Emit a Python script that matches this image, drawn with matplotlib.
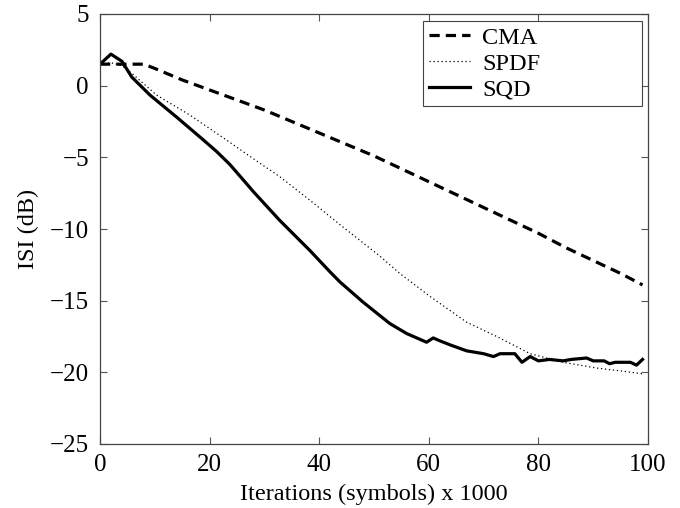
import matplotlib.pyplot as plt

plt.rcParams['font.family'] = ['Liberation Serif', 'DejaVu Serif']

# --- dati (iterazioni x1000, ISI in dB) ---
cma_x = [0, 5, 8, 10, 15, 20, 25, 30, 35, 40, 45, 50, 55, 60, 65, 70, 75, 80, 85, 90, 95, 99]
cma_y = [1.5, 1.5, 1.5, 1.2, 0.4, -0.3, -1.0, -1.7, -2.5, -3.3, -4.1, -4.9, -5.8, -6.7,
         -7.6, -8.5, -9.4, -10.3, -11.3, -12.2, -13.1, -13.9]

spdf_x = [0, 2, 4, 6, 10.3, 16.4, 23.1, 28, 32.8, 38, 43.8, 51.1, 54.7, 60.2, 66.9,
          72.4, 78.5, 84.5, 90.6, 95, 99]
spdf_y = [1.5, 1.6, 1.4, 0.8, -0.65, -2.05, -3.8, -5.1, -6.35, -7.9, -9.7, -11.9, -13.1,
          -14.7, -16.5, -17.5, -18.7, -19.3, -19.7, -19.9, -20.1]

sqd_x = [0, 2, 4, 5.8, 9.1, 14, 18.9, 21.3, 23.7, 26.2, 28, 32.8, 38.3, 42, 43.8, 48, 52.9,
         56, 59.6, 60.8, 62, 64, 66.9, 70, 71.8, 73, 75.7, 77, 78.5, 80, 82, 84.5, 86,
         88.8, 90, 92, 93, 94, 96.8, 97.9, 99]
sqd_y = [1.5, 2.2, 1.7, 0.6, -0.65, -2.2, -3.8, -4.6, -5.5, -6.6, -7.4, -9.4, -11.5,
         -13.0, -13.7, -15.1, -16.6, -17.3, -17.9, -17.6, -17.8, -18.1, -18.5, -18.7,
         -18.9, -18.7, -18.7, -19.3, -18.9, -19.2, -19.1, -19.2, -19.1, -19.0, -19.2,
         -19.2, -19.4, -19.3, -19.3, -19.5, -19.1]

fig = plt.figure(figsize=(6.8, 5.08), dpi=100)
ax = fig.add_axes([100 / 680, 64 / 508, 548 / 680, 430 / 508])

ax.plot(cma_x, cma_y, color='black', linewidth=2.3, linestyle=(0, (3.2, 1.9)), label='CMA')
ax.plot(spdf_x, spdf_y, color='black', linewidth=0.9, linestyle=(0, (1, 2.2)), label='SPDF')
ax.plot(sqd_x, sqd_y, color='black', linewidth=2.3, label='SQD')

ax.set_xlim(0, 100)
ax.set_ylim(-25, 5)
ax.set_xticks([0, 20, 40, 60, 80, 100])
ax.set_yticks([-25, -20, -15, -10, -5, 0, 5])
ax.tick_params(direction='in', top=True, right=True, length=5, width=0.8,
               color='#555555', labelsize=18)
ax.tick_params(axis='x', pad=7)
ax.tick_params(axis='y', pad=8)
for s in ax.spines.values():
    s.set_color('#444444')
    s.set_linewidth(0.9)

ax.set_xlabel('Iterations (symbols) x 1000', fontsize=17.5, labelpad=6)
ax.set_ylabel('ISI (dB)', fontsize=17.5, labelpad=8)

# legenda larga in stile MATLAB
leg = ax.legend(loc='upper left', bbox_to_anchor=(0.589, 0.786, 0.4, 0.198),
                mode='expand', fontsize=17.5, fancybox=False, framealpha=1,
                edgecolor='#444444', borderaxespad=0, labelspacing=0.15,
                handlelength=1.7, handletextpad=0.5, borderpad=0.25)
leg.get_frame().set_linewidth(0.8)

plt.savefig('out.png', dpi=100)
